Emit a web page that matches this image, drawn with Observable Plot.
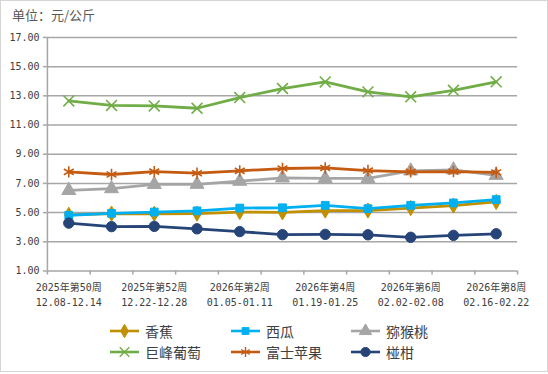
<!DOCTYPE html>
<html><head><meta charset="utf-8">
<script src="https://cdn.jsdelivr.net/npm/d3@7"></script>
<script src="https://cdn.jsdelivr.net/npm/@observablehq/plot@0.6"></script>
<style>
body{margin:0;background:#fff;}
#wrap{position:relative;width:546px;height:370px;border:1px solid #d4d4d4;font-family:"Noto Sans CJK SC",sans-serif;overflow:hidden;background:#fff}
#title{position:absolute;left:11px;top:5px;font-size:13px;line-height:18px;color:#595959;white-space:nowrap}
#chart{position:absolute;left:-1px;top:-1px}
.item{position:absolute;display:flex;align-items:center;font-size:14px;color:#404040;white-space:nowrap;line-height:18px}
.item svg{margin-right:6px}
</style></head>
<body>
<div id="wrap">
  <div id="chart"></div>
  <div id="title">单位：元/公斤</div>
  <div id="legend"></div>
</div>
<script>
const weeks = ["2025年第50周","2025年第51周","2025年第52周","2026年第1周","2026年第2周","2026年第3周","2026年第4周","2026年第5周","2026年第6周","2026年第7周","2026年第8周"];
const dates = ["12.08-12.14","12.15-12.21","12.22-12.28","12.29-01.04","01.05-01.11","01.12-01.18","01.19-01.25","01.26-02.01","02.02-02.08","02.09-02.15","02.16-02.22"];
const yTicks = [1,3,5,7,9,11,13,15,17];

const banana     = [4.85,4.93,4.92,4.93,5.04,5.02,5.14,5.14,5.31,5.48,5.73];
const watermelon = [4.82,4.95,5.04,5.12,5.31,5.33,5.50,5.27,5.50,5.66,5.89];
const kiwi       = [6.52,6.64,6.93,6.94,7.15,7.38,7.34,7.34,7.86,7.93,7.55];
const grape      = [12.65,12.34,12.31,12.15,12.88,13.50,13.95,13.27,12.93,13.38,13.96];
const apple      = [7.79,7.61,7.81,7.70,7.86,8.02,8.06,7.88,7.79,7.81,7.75];
const ponkan     = [4.28,4.04,4.06,3.89,3.70,3.49,3.51,3.48,3.31,3.44,3.55];

const seriesNames  = ["香蕉","西瓜","猕猴桃","巨峰葡萄","富士苹果","椪柑"];
const seriesValues = [banana, watermelon, kiwi, grape, apple, ponkan];
const seriesColors = ["#C09000","#00B0F0","#A5A5A5","#70AD47","#C55A11","#264478"];
const seriesSymbols = ["diamond","square","triangle","times","asterisk","circle"];
const seriesR = [4.6,4.4,5.2,5,5.4,5.2];
const filled = [true,true,true,false,false,true];

const marks = [
  Plot.gridY({ticks: yTicks, stroke:"#a6a6a6", strokeOpacity:1, strokeWidth:1.5}),
  Plot.ruleX([-0.5], {stroke:"#a6a6a6", strokeWidth:1.5}),
  Plot.axisY({ticks: yTicks, tickFormat: d => d.toFixed(2), tickSize:4, tickPadding:4, stroke:"#a6a6a6", strokeWidth:1.5, fill:"#404040", label:null}),
  Plot.axisX({ticks: d3.range(weeks.length + 1).map(i => i - 0.5), tickFormat: () => "", tickSize:4, stroke:"#a6a6a6", strokeWidth:1.5, label:null}),
  Plot.axisX({ticks: d3.range(0, weeks.length, 2), tickSize:0, tickPadding:10, lineHeight:1.45, fill:"#404040",
              tickFormat: i => weeks[i] + "\n" + dates[i], label:null})
];
seriesValues.forEach((vals, s) => {
  const rows = vals.map((v, i) => ({i, v}));
  marks.push(Plot.line(rows, {x:"i", y:"v", stroke: seriesColors[s], strokeWidth:2.8, curve:"linear"}));
  marks.push(Plot.dot(rows, {x:"i", y:"v", symbol: seriesSymbols[s], r: seriesR[s],
    fill: filled[s] ? seriesColors[s] : "none", stroke: seriesColors[s], strokeWidth: filled[s] ? 1 : 1.6}));
});

const chart = Plot.plot({
  width:548, height:374,
  marginLeft:47, marginRight:30, marginTop:37, marginBottom:103,
  style:{fontFamily:"'DejaVu Sans Mono','Noto Sans CJK SC',monospace", fontSize:"10px", background:"transparent", overflow:"visible"},
  x:{type:"linear", domain:[-0.5, weeks.length - 0.5]},
  y:{domain:[1,17]},
  marks
});
document.getElementById("chart").appendChild(chart);

// legend
const legend = document.getElementById("legend");
const cols = [110, 231, 351];
const rows = [331, 352];
const symMap = {diamond:d3.symbolDiamond, square:d3.symbolSquare, triangle:d3.symbolTriangle, times:d3.symbolTimes, asterisk:d3.symbolAsterisk, circle:d3.symbolCircle};
seriesNames.forEach((name, s) => {
  const div = document.createElement("div");
  div.className = "item";
  div.style.left = (cols[s % 3] - 1) + "px";
  div.style.top = (rows[Math.floor(s / 3)] - 10) + "px";
  const lr = seriesR[s] * 0.88;
  const path = d3.symbol(symMap[seriesSymbols[s]], lr * lr * Math.PI)();
  div.innerHTML = `<svg width="29" height="14" viewBox="0 0 29 14"><line x1="0" x2="29" y1="7" y2="7" stroke="${seriesColors[s]}" stroke-width="2.6"/><path transform="translate(14.5,7)" d="${path}" fill="${filled[s] ? seriesColors[s] : "none"}" stroke="${seriesColors[s]}" stroke-width="${filled[s] ? 1 : 1.4}"/></svg><span>${name}</span>`;
  legend.appendChild(div);
});
</script>
</body></html>
